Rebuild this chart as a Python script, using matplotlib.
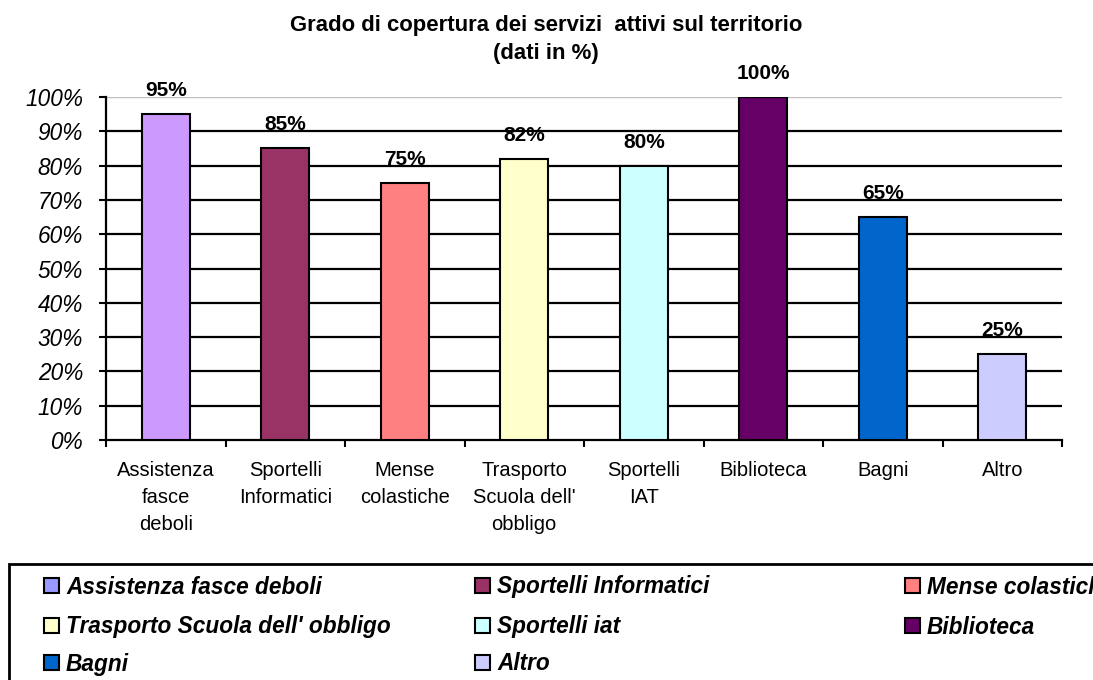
import matplotlib.pyplot as plt
import numpy as np
from matplotlib.patches import Rectangle
from matplotlib.ticker import FixedLocator, PercentFormatter

plt.rcParams['font.family'] = ['Liberation Sans', 'DejaVu Sans']

# data
categorie = ['Assistenza\nfasce\ndeboli', 'Sportelli\nInformatici', 'Mense\ncolastiche',
             "Trasporto\nScuola dell'\nobbligo", 'Sportelli\nIAT', 'Biblioteca', 'Bagni', 'Altro']
legenda = ['Assistenza fasce deboli', 'Sportelli Informatici', 'Mense colastiche',
           "Trasporto Scuola dell' obbligo", 'Sportelli iat', 'Biblioteca', 'Bagni', 'Altro']
valori = [95, 85, 75, 82, 80, 100, 65, 25]
colori = ['#CC99FF', '#993366', '#FF8080', '#FFFFCC', '#CCFFFF', '#660066', '#0066CC', '#CCCCFF']
colori_legenda = ['#9999FF', '#993366', '#FF8080', '#FFFFCC', '#CCFFFF', '#660066', '#0066CC', '#CCCCFF']

W, H = 1093, 680
fig = plt.figure(figsize=(W / 100, H / 100), dpi=100)


def px(x, y):
    # pixel position (from top-left) -> figure fraction
    return x / W, 1 - y / H


ax = fig.add_axes([106 / W, 1 - 440 / H, (1062 - 106) / W, (440 - 97) / H])

x = np.arange(len(valori))
ax.bar(x, valori, width=0.4, color=colori, edgecolor='black', linewidth=1.5, zorder=3)
for xi, v in zip(x, valori):
    ax.annotate(f'{v}%', (xi, v), xytext=(0, 14), textcoords='offset pixels',
                ha='center', va='bottom', fontsize=15, fontweight='bold', zorder=4)

ax.set_xlim(-0.5, len(valori) - 0.5)
ax.set_ylim(0, 100)
ax.set_yticks(range(0, 101, 10))
ax.yaxis.set_major_formatter(PercentFormatter(decimals=0))
ax.tick_params(axis='y', labelsize=16.3, length=5, width=1.5, pad=11.5)
for t in ax.get_yticklabels():
    t.set_fontstyle('italic')

# gridlines: black, the top one light grey
for g in range(10, 100, 10):
    ax.axhline(g, color='black', linewidth=1.6, zorder=1)
ax.axhline(100, color='#C0C0C0', linewidth=1, zorder=1)

ax.xaxis.set_major_locator(FixedLocator(np.arange(-0.5, len(valori), 1)))
ax.xaxis.set_minor_locator(FixedLocator(x))
ax.set_xticklabels([])
ax.set_xticklabels(categorie, minor=True, linespacing=1.55)
ax.tick_params(axis='x', which='major', length=5, width=1.5, direction='out')
ax.tick_params(axis='x', which='minor', length=0, labelsize=14.5, pad=15)

for s in ['top', 'right']:
    ax.spines[s].set_visible(False)
ax.spines['left'].set_linewidth(1.6)
ax.spines['bottom'].set_linewidth(1.6)

fig.text(*px(546, 25), 'Grado di copertura dei servizi  attivi sul territorio',
         ha='center', va='center', fontsize=15.9, fontweight='bold')
fig.text(*px(546, 53), '(dati in %)', ha='center', va='center', fontsize=15.9, fontweight='bold')

# legend drawn by hand so the columns are evenly spaced, clipped at the figure edge
fx, fy = px(9, 564)
fig.patches.append(Rectangle((fx, -0.2), 1.2, fy + 0.2, transform=fig.transFigure,
                             facecolor='white', edgecolor='black', linewidth=2))
col_x = [44, 475, 905]
row_y = [585, 625, 662]
for i, (lab, c) in enumerate(zip(legenda, colori_legenda)):
    r, k = divmod(i, 3)
    x0, yc = col_x[k], row_y[r]
    bx, by = px(x0, yc + 7.5)
    fig.patches.append(Rectangle((bx, by), 15 / W, 15 / H, transform=fig.transFigure,
                                 facecolor=c, edgecolor='black', linewidth=1.5))
    fig.text(*px(x0 + 22, yc + 8.5), lab, ha='left', va='baseline', fontsize=16.3,
             fontweight='bold', fontstyle='italic')

fig.savefig('out.png', dpi=100)
